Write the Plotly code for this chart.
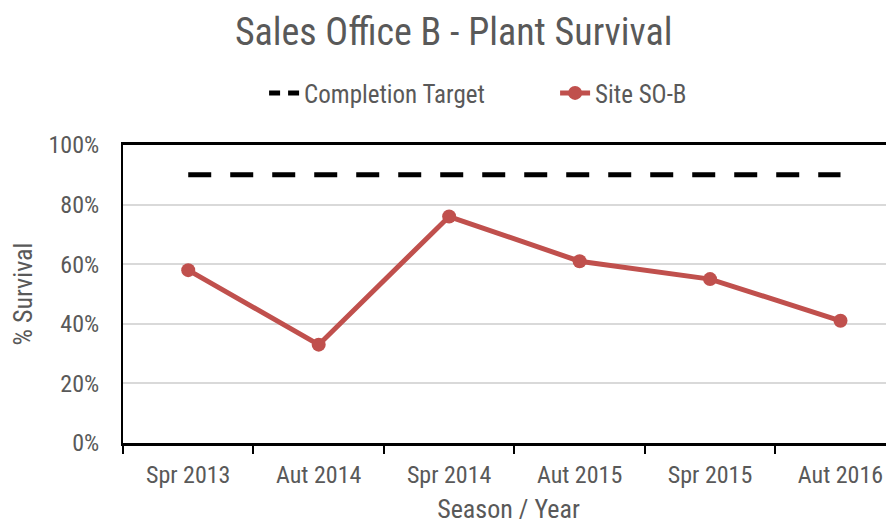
import plotly.graph_objects as go

categories = ["Spr 2013", "Aut 2014", "Spr 2014", "Aut 2015", "Spr 2015", "Aut 2016"]
site_values = [0.58, 0.33, 0.76, 0.61, 0.55, 0.41]
target_values = [0.90, 0.90, 0.90, 0.90, 0.90, 0.90]
y_ticks = [0, 0.2, 0.4, 0.6, 0.8, 1.0]
y_tick_labels = ["0%", "20%", "40%", "60%", "80%", "100%"]

FONT = "Liberation Sans Narrow, Roboto Condensed, Arial Narrow, DejaVu Sans Condensed, sans-serif"
GREY = "#595959"

fig = go.Figure()
fig.add_trace(go.Scatter(
    x=categories, y=target_values, mode="lines", name="Completion Target",
    line=dict(color="black", width=5, dash="23px,19px"), showlegend=False,
))
# legend entry for the target line (shorter dash so two dashes show in the key)
fig.add_trace(go.Scatter(
    x=[None], y=[None], mode="lines", name="Completion Target",
    line=dict(color="black", width=5, dash="11px,8px"),
))
fig.add_trace(go.Scatter(
    x=categories, y=site_values, mode="lines+markers", name="Site SO-B",
    line=dict(color="#C0504D", width=5),
    marker=dict(color="#C0504D", size=14),
))

fig.update_layout(
    width=886, height=516,
    margin=dict(l=115, r=0, t=137, b=81, autoexpand=False),
    paper_bgcolor="white", plot_bgcolor="white",
    font=dict(family=FONT, color=GREY, size=24),
    title=dict(text="Sales Office B - Plant Survival", x=0.503, xanchor="center",
               y=0.955, yanchor="middle", font=dict(size=38, color=GREY)),
    legend=dict(orientation="h", x=0.183, xanchor="left", y=1.174, yanchor="middle",
                font=dict(size=25, color=GREY), entrywidth=246),
    showlegend=True,
)
fig.update_xaxes(
    type="category", range=[-0.5, 5.41], tickson="boundaries",
    ticks="outside", ticklen=8, tickwidth=2, tickcolor="black",
    showline=True, linecolor="black", linewidth=3, mirror=True,
    showgrid=False, tickfont=dict(size=24, color=GREY), automargin=False,
    ticklabelstandoff=8,
    title=dict(text="Season / Year", font=dict(size=26, color=GREY), standoff=13),
)
fig.update_yaxes(
    range=[0, 1.0], tickvals=y_ticks, ticktext=y_tick_labels,
    showline=True, linecolor="black", linewidth=2, mirror=True,
    showgrid=True, gridcolor="#D9D9D9", gridwidth=2, automargin=False,
    ticks="", ticklabelstandoff=17, tickfont=dict(size=24, color=GREY),
    title=dict(text="% Survival", font=dict(size=26, color=GREY), standoff=20),
    zeroline=False,
)
fig.write_html("out.html")
